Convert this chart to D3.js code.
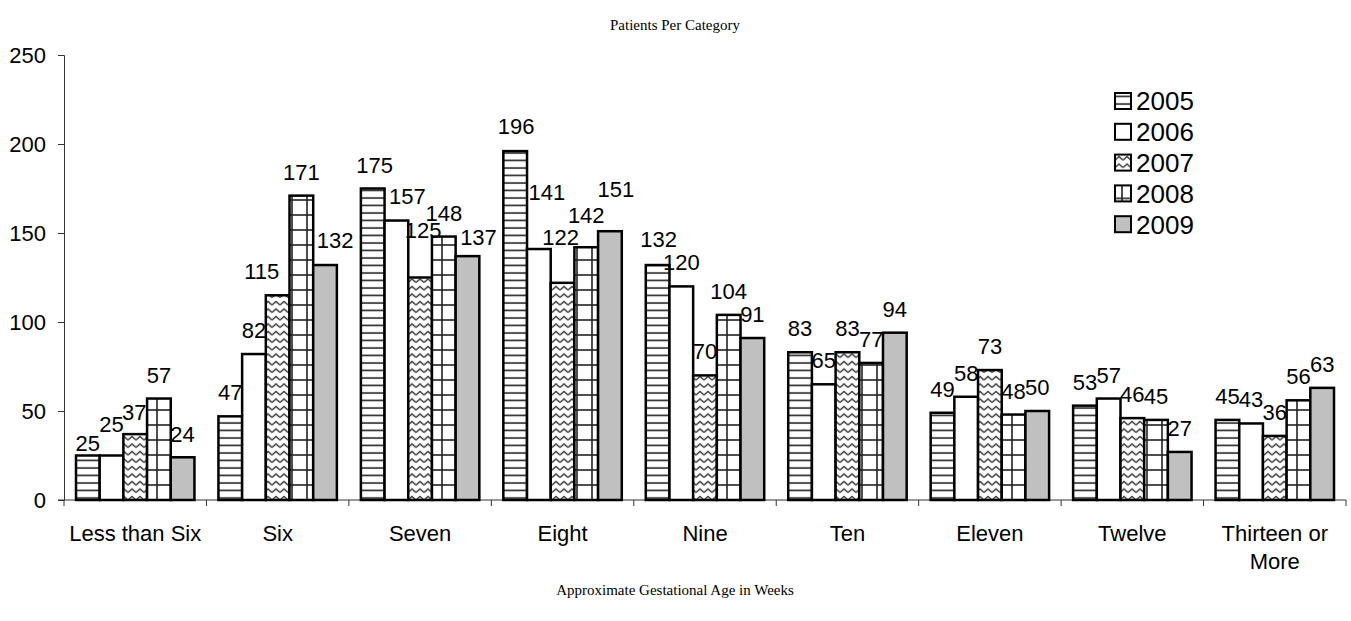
<!DOCTYPE html>
<html>
<head>
<meta charset="utf-8">
<script src="https://cdn.jsdelivr.net/npm/d3@7"></script>
<style>
  body { margin: 0; background: #fff; }
  svg { display: block; }
  .tick-label { font-family: Arial, "Liberation Sans", sans-serif; font-size: 22px; fill: #000; }
  .serif { font-family: "Times New Roman", "Liberation Serif", serif; font-size: 15px; fill: #000; }
</style>
</head>
<body>
<div id="chart"></div>
<script>
// chart data
const categories = ["Less than Six", "Six", "Seven", "Eight", "Nine", "Ten", "Eleven", "Twelve", "Thirteen or More"];
const years = ["2005", "2006", "2007", "2008", "2009"];
const values2005 = [25, 47, 175, 196, 132, 83, 49, 53, 45];
const values2006 = [25, 82, 157, 141, 120, 65, 58, 57, 43];
const values2007 = [37, 115, 125, 122, 70, 83, 73, 46, 36];
const values2008 = [57, 171, 148, 142, 104, 77, 48, 45, 56];
const values2009 = [24, 132, 137, 151, 91, 94, 50, 27, 63];
const yTicks = [0, 50, 100, 150, 200, 250];

const series = [values2005, values2006, values2007, values2008, values2009];

// value labels that sit off their default spot in the original (dx, dy in px)
const labelNudge = {
  "Less than Six|2005": [0, 11], "Less than Six|2006": [0, -8], "Less than Six|2007": [-1, 2],
  "Less than Six|2009": [0, 1],
  "Six|2007": [-16, 0], "Six|2009": [10, -1],
  "Seven|2005": [2, 0], "Seven|2006": [11, -1], "Seven|2007": [3, -24], "Seven|2009": [11, 5],
  "Eight|2005": [1, -1], "Eight|2006": [8, -33], "Eight|2007": [-2, -22], "Eight|2008": [0, -8],
  "Eight|2009": [6, -18],
  "Nine|2005": [1, -2]
};

const width = 1351, height = 621;
const plotLeft = 64, plotRight = 1346, plotTop = 55, plotBottom = 500;

const svg = d3.select("#chart").append("svg")
  .attr("width", width)
  .attr("height", height);

// patterns for each year
const defs = svg.append("defs");

const p05 = defs.append("pattern")
  .attr("id", "pat2005").attr("patternUnits", "userSpaceOnUse")
  .attr("width", 8).attr("height", 7.5);
p05.append("rect").attr("width", 8).attr("height", 7.5).attr("fill", "#fff");
p05.append("line").attr("x1", 0).attr("x2", 8).attr("y1", 3).attr("y2", 3)
  .attr("stroke", "#222").attr("stroke-width", 1.6);

const p07 = defs.append("pattern")
  .attr("id", "pat2007").attr("patternUnits", "userSpaceOnUse")
  .attr("width", 8).attr("height", 7.5);
p07.append("rect").attr("width", 8).attr("height", 7.5).attr("fill", "#fff");
p07.append("path").attr("d", "M0,5 L4,1.5 L8,5")
  .attr("fill", "none").attr("stroke", "#444").attr("stroke-width", 1.4);

const p08 = defs.append("pattern")
  .attr("id", "pat2008").attr("patternUnits", "userSpaceOnUse")
  .attr("width", 15).attr("height", 15);
p08.append("rect").attr("width", 15).attr("height", 15).attr("fill", "#fff");
p08.append("line").attr("x1", 0).attr("x2", 15).attr("y1", 5).attr("y2", 5)
  .attr("stroke", "#222").attr("stroke-width", 1.6);
p08.append("line").attr("x1", 7).attr("x2", 7).attr("y1", 0).attr("y2", 15)
  .attr("stroke", "#222").attr("stroke-width", 1.6);

const fills = ["url(#pat2005)", "#fff", "url(#pat2007)", "url(#pat2008)", "#c0c0c0"];

// scales
const x = d3.scaleBand().domain(categories).range([plotLeft, plotRight]);
const xSub = d3.scaleBand().domain(years).range([12, x.bandwidth() - 12]);
const y = d3.scaleLinear().domain([0, 250]).range([plotBottom, plotTop]);

// y axis
const yAxis = svg.append("g")
  .attr("transform", `translate(${plotLeft},0)`)
  .call(d3.axisLeft(y).tickValues(yTicks).tickSize(6).tickPadding(12));
yAxis.select(".domain").attr("stroke", "#333");
yAxis.selectAll(".tick line").attr("stroke", "#333");
yAxis.selectAll(".tick text").attr("class", "tick-label");
yAxis.attr("font-family", null).attr("font-size", null);

// x axis with ticks at category boundaries
const boundaries = categories.map(c => x(c)).concat([plotRight]);
svg.append("line")
  .attr("x1", plotLeft - 6).attr("x2", plotRight)
  .attr("y1", plotBottom).attr("y2", plotBottom)
  .attr("stroke", "#333");
svg.append("g").selectAll("line")
  .data(boundaries)
  .join("line")
  .attr("x1", d => d).attr("x2", d => d)
  .attr("y1", plotBottom).attr("y2", plotBottom + 6)
  .attr("stroke", "#333");

// category labels (wrap "Thirteen or More")
const catLabel = svg.append("g").selectAll("text")
  .data(categories)
  .join("text")
  .attr("class", "tick-label")
  .attr("text-anchor", "middle")
  .attr("x", d => x(d) + x.bandwidth() / 2)
  .attr("y", 541);
catLabel.each(function(d) {
  const t = d3.select(this);
  const lines = d === "Thirteen or More" ? ["Thirteen or", "More"] : [d];
  lines.forEach((ln, i) => {
    t.append("tspan")
      .attr("x", x(d) + x.bandwidth() / 2)
      .attr("dy", i === 0 ? 0 : 28)
      .text(ln);
  });
});

// bars
const barData = [];
categories.forEach((c, ci) => {
  years.forEach((yr, si) => {
    barData.push({ cat: c, year: yr, si: si, value: series[si][ci] });
  });
});

svg.append("g").selectAll("rect")
  .data(barData)
  .join("rect")
  .attr("x", d => x(d.cat) + xSub(d.year))
  .attr("y", d => y(d.value))
  .attr("width", xSub.bandwidth())
  .attr("height", d => y(0) - y(d.value))
  .attr("fill", d => fills[d.si])
  .attr("stroke", "#000")
  .attr("stroke-width", 2.5);

// value labels
const nudge = d => labelNudge[d.cat + "|" + d.year] || [0, 0];
svg.append("g").selectAll("text")
  .data(barData)
  .join("text")
  .attr("class", "tick-label")
  .attr("text-anchor", "middle")
  .attr("x", d => x(d.cat) + xSub(d.year) + xSub.bandwidth() / 2 + nudge(d)[0])
  .attr("y", d => y(d.value) - 16 + nudge(d)[1])
  .text(d => d.value);

// titles
svg.append("text")
  .attr("class", "serif")
  .attr("text-anchor", "middle")
  .attr("x", 675).attr("y", 30)
  .text("Patients Per Category");
svg.append("text")
  .attr("class", "serif")
  .attr("text-anchor", "middle")
  .attr("x", 675).attr("y", 595)
  .text("Approximate Gestational Age in Weeks");

// legend
const legend = svg.append("g").selectAll("g")
  .data(years)
  .join("g")
  .attr("transform", (d, i) => `translate(1115,${101 + i * 30.8})`);
legend.append("rect")
  .attr("x", 0).attr("y", -8)
  .attr("width", 16).attr("height", 16)
  .attr("fill", (d, i) => fills[i])
  .attr("stroke", "#000")
  .attr("stroke-width", 2);
legend.append("text")
  .attr("x", 21).attr("y", 0)
  .attr("dy", "0.36em")
  .attr("font-family", "Arial, 'Liberation Sans', sans-serif")
  .attr("font-size", 26)
  .text(d => d);
</script>
</body>
</html>
